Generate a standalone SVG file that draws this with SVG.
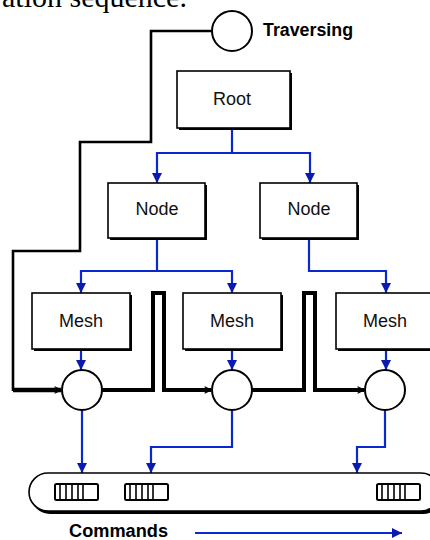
<svg xmlns="http://www.w3.org/2000/svg" width="430" height="540" viewBox="0 0 430 540">
  <style>
    .lbl { font-family: "Liberation Sans", Arial, sans-serif; font-size: 18px; fill: #111; text-anchor: middle; }
    .cap { font-family: "Liberation Sans", Arial, sans-serif; font-size: 18px; font-weight: bold; fill: #000; }
    .box { fill: #fff; stroke: #000; stroke-width: 1.6; }
    .shadow { fill: #000; }
    .blue { fill: none; stroke: #0a28d0; stroke-width: 2.2; }
    .blk { fill: none; stroke: #000; stroke-linejoin: miter; }
    .ring { fill: #fff; stroke: #000; stroke-width: 2; }
    .buf { fill: #fff; stroke: #000; stroke-width: 2; }
    .cell { stroke: #000; stroke-width: 1.6; }
  </style>
  <defs>
    <marker id="arr" viewBox="0 0 10 10" refX="10" refY="5" markerWidth="10" markerHeight="10" markerUnits="userSpaceOnUse" orient="auto">
      <path d="M0,0 L10,5 L0,10 z" fill="#0a1ab0"/>
    </marker>
    <marker id="chev" viewBox="0 0 10 10" refX="9" refY="5" markerWidth="8" markerHeight="8" markerUnits="userSpaceOnUse" orient="auto">
      <path d="M1,1 L9,5 L1,9" fill="none" stroke="#000" stroke-width="1.6"/>
    </marker>
    <symbol id="bufIcon" overflow="visible">
      <rect class="buf" x="0" y="0" width="43" height="16" rx="1.5"/>
      <line class="cell" x1="5" y1="0" x2="5" y2="16"/>
      <line class="cell" x1="11" y1="0" x2="11" y2="16"/>
      <line class="cell" x1="17" y1="0" x2="17" y2="16"/>
      <line class="cell" x1="23" y1="0" x2="23" y2="16"/>
      <line class="cell" x1="28" y1="0" x2="28" y2="16"/>
    </symbol>
  </defs>

  <rect x="0" y="0" width="430" height="540" fill="#fff"/>

  <!-- running text above the figure -->
  <text x="2" y="7" font-family="'Liberation Serif', 'Times New Roman', serif" font-size="30" fill="#000">ation sequence.</text>

  <!-- connectors -->
  <g id="connectors">
    <!-- traversal path -->
    <path class="blk" stroke-width="2.6" d="M212,31 H151 V142 H80 V251 H13 V391"/>
    <path class="blk" stroke-width="4.5" d="M13,390 H61" marker-end="url(#chev)"/>
    <path class="blk" stroke-width="4" d="M102,390 H153 V293 H164 V390 H211" marker-end="url(#chev)"/>
    <path class="blk" stroke-width="4" d="M252,390 H304 V293 H315 V390 H364" marker-end="url(#chev)"/>

    <!-- hierarchy -->
    <path class="blue" d="M232,128 V153 H157 V183" marker-end="url(#arr)"/>
    <path class="blue" d="M232,153 H310 V183" marker-end="url(#arr)"/>
    <path class="blue" d="M157,238 V271 H81 V293" marker-end="url(#arr)"/>
    <path class="blue" d="M157,271 H232 V293" marker-end="url(#arr)"/>
    <path class="blue" d="M309,238 V271 H386 V293" marker-end="url(#arr)"/>

    <!-- mesh to render step -->
    <path class="blue" d="M81,350 V370" marker-end="url(#arr)"/>
    <path class="blue" d="M232,350 V370" marker-end="url(#arr)"/>
    <path class="blue" d="M386,350 V370" marker-end="url(#arr)"/>

    <!-- render step to command list -->
    <path class="blue" stroke-width="3" d="M82,410 V473" marker-end="url(#arr)"/>
    <path class="blue" d="M232,410 V447 H151 V473" marker-end="url(#arr)"/>
    <path class="blue" stroke-width="3" d="M385,410 V447 H357 V473" marker-end="url(#arr)"/>

    <!-- command order -->
    <path class="blue" stroke-width="2.6" d="M195,533 H402" marker-end="url(#arr)"/>
  </g>

  <!-- traversal start -->
  <g id="traversing">
    <circle class="ring" cx="232" cy="31" r="20"/>
    <text class="cap" x="263" y="36" textLength="90" lengthAdjust="spacingAndGlyphs">Traversing</text>
  </g>

  <g id="root">
    <rect class="shadow" x="179" y="73" width="113" height="57"/>
    <rect class="box" x="177" y="71" width="113" height="57"/>
    <text class="lbl" x="232" y="105">Root</text>
  </g>

  <g id="node-left">
    <rect class="shadow" x="110" y="185" width="97" height="55"/>
    <rect class="box" x="108" y="183" width="97" height="55"/>
    <text class="lbl" x="157" y="215">Node</text>
  </g>

  <g id="node-right">
    <rect class="shadow" x="262" y="185" width="97" height="55"/>
    <rect class="box" x="260" y="183" width="97" height="55"/>
    <text class="lbl" x="309" y="215">Node</text>
  </g>

  <g id="mesh-1">
    <rect class="shadow" x="34" y="295" width="98" height="56"/>
    <rect class="box" x="32" y="293" width="98" height="56"/>
    <text class="lbl" x="81" y="327">Mesh</text>
  </g>

  <g id="mesh-2">
    <rect class="shadow" x="185" y="295" width="98" height="56"/>
    <rect class="box" x="183" y="293" width="98" height="56"/>
    <text class="lbl" x="232" y="327">Mesh</text>
  </g>

  <g id="mesh-3">
    <rect class="shadow" x="338" y="295" width="100" height="56"/>
    <rect class="box" x="336" y="293" width="100" height="56"/>
    <text class="lbl" x="385" y="327">Mesh</text>
  </g>

  <g id="render-1"><circle class="ring" cx="82" cy="390" r="20"/></g>
  <g id="render-2"><circle class="ring" cx="232" cy="390" r="20"/></g>
  <g id="render-3"><circle class="ring" cx="385" cy="390" r="20"/></g>

  <g id="command-list">
    <rect class="shadow" x="31" y="476" width="411" height="38" rx="19"/>
    <rect class="box" x="29" y="473" width="411" height="38" rx="19"/>
    <use href="#bufIcon" x="55" y="484"/>
    <use href="#bufIcon" x="125" y="484"/>
    <use href="#bufIcon" x="377" y="484"/>
  </g>

  <g id="commands-label">
    <text class="cap" x="69" y="537" textLength="99" lengthAdjust="spacingAndGlyphs">Commands</text>
  </g>
</svg>
